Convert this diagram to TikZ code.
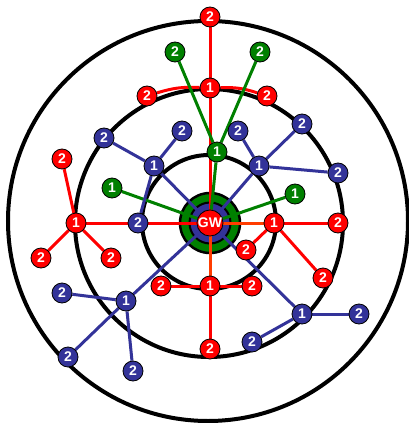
\documentclass[tikz,border=0pt]{standalone}
\usepackage{fontspec}
\setmainfont{Liberation Sans}
\usetikzlibrary{positioning}
\definecolor{hopred}{RGB}{255,0,0}
\definecolor{hoporange}{RGB}{255,60,0}
\definecolor{hopgreen}{RGB}{0,128,0}
\definecolor{hopblue}{RGB}{51,51,153}
\pgfdeclarelayer{rings}
\pgfdeclarelayer{links}
\pgfsetlayers{rings,links,main}
\tikzset{
  hop/.style={circle, draw=black, line width=0.8pt, minimum size=20pt,
    inner sep=0pt, text=white, font=\bfseries\fontsize{14}{14}\selectfont},
  rhop/.style={hop, fill=hopred},
  ghop/.style={hop, fill=hopgreen},
  bhop/.style={hop, fill=hopblue},
  ring/.style={draw=black, line width=4pt},
  rlink/.style={hopred, line width=3pt},
  olink/.style={hoporange, line width=3pt},
  glink/.style={hopgreen, line width=3pt},
  blink/.style={hopblue, line width=3pt}
}

\begin{document}
\begin{tikzpicture}[x=1pt, y=-1pt]
  \useasboundingbox (0,0) rectangle (409,423);

  % Range circles and gateway rings
  \begin{pgfonlayer}{rings}
    \draw[ring] (208,221) circle (200);
    \draw[ring] (209,223) circle (134);
    \draw[ring] (209,222) circle (67);
    \draw[fill=hopgreen, draw=black, line width=2.5pt] (210,223) circle (30);
    \draw[fill=hopblue, draw=black, line width=2pt] (210,223) circle (20.5);
  \end{pgfonlayer}

  % Gateway
  \node[rhop, minimum size=26pt] (gw) at (210,223) {GW};

  % Red branch, top
  \node[rhop] (r1t) at (210,88) {1};
  \node[rhop] (r2t) at (210,17) {2};
  \node[rhop] (r2tl) at (147,96) {2};
  \node[rhop] (r2tr) at (267,96) {2};

  % Red branch, left
  \node[rhop] (r1l) at (76,223) {1};
  \node[rhop] (r2lu) at (62,159) {2};
  \node[rhop] (r2ll) at (41,258) {2};
  \node[rhop] (r2lr) at (111,258) {2};

  % Red branch, right
  \node[rhop] (r1r) at (274,223) {1};
  \node[rhop] (r2r) at (338,223) {2};
  \node[rhop] (r2rl) at (246,250) {2};
  \node[rhop] (r2rd) at (323,278) {2};

  % Red branch, bottom
  \node[rhop] (r1b) at (210,286) {1};
  \node[rhop] (r2bl) at (161,286) {2};
  \node[rhop] (r2br) at (252,286) {2};
  \node[rhop] (r2b) at (210,349) {2};

  % Green branches
  \node[ghop] (g1t) at (217,152) {1};
  \node[ghop] (g2tl) at (175,52) {2};
  \node[ghop] (g2tr) at (260,52) {2};
  \node[ghop] (g1l) at (112,188) {1};
  \node[ghop] (g1r) at (295,194) {1};

  % Blue branch, upper left
  \node[bhop] (b1ul) at (154,166) {1};
  \node[bhop] (b2ula) at (104,138) {2};
  \node[bhop] (b2ulb) at (182,131) {2};
  \node[bhop] (b2ulc) at (138,223) {2};

  % Blue branch, upper right
  \node[bhop] (b1ur) at (259,166) {1};
  \node[bhop] (b2ura) at (238,131) {2};
  \node[bhop] (b2urb) at (302,124) {2};
  \node[bhop] (b2urc) at (338,173) {2};

  % Blue branch, lower left
  \node[bhop] (b1ll) at (126,301) {1};
  \node[bhop] (b2lla) at (62,293) {2};
  \node[bhop] (b2llb) at (68,357) {2};
  \node[bhop] (b2llc) at (133,371) {2};

  % Blue branch, lower right
  \node[bhop] (b1lr) at (302,314) {1};
  \node[bhop] (b2lra) at (359,314) {2};
  \node[bhop] (b2lrb) at (252,342) {2};

  \begin{pgfonlayer}{links}
    % Red links
    \draw[rlink] (gw) -- (r1t) -- (r2t);
    \draw[rlink] (r1t) to[bend right=10] (r2tl);
    \draw[rlink] (r1t) to[bend left=10] (r2tr);
    \draw[rlink] (gw) -- (r1l);
    \draw[rlink] (r1l) -- (r2lu);
    \draw[rlink] (r1l) -- (r2ll);
    \draw[rlink] (r1l) -- (r2lr);
    \draw[olink] (gw) -- (r1r);
    \draw[rlink] (r1r) -- (r2r);
    \draw[rlink] (r1r) -- (r2rl);
    \draw[rlink] (r1r) -- (r2rd);
    \draw[olink] (gw) -- (r1b);
    \draw[rlink] (r1b) -- (r2bl);
    \draw[rlink] (r1b) -- (r2br);
    \draw[rlink] (r1b) -- (r2b);

    % Green links
    \draw[glink] (gw) -- (g1t);
    \draw[glink] (g1t) -- (g2tl);
    \draw[glink] (g1t) -- (g2tr);
    \draw[glink] (gw) -- (g1l);
    \draw[glink] (gw) -- (g1r);

    % Blue links
    \draw[blink] (gw) -- (b1ul);
    \draw[blink] (b1ul) -- (b2ula);
    \draw[blink] (b1ul) -- (b2ulb);
    \draw[blink] (b1ul) -- (b2ulc);
    \draw[blink] (gw) -- (b1ur);
    \draw[blink] (b1ur) -- (b2ura);
    \draw[blink] (b1ur) -- (b2urb);
    \draw[blink] (b1ur) -- (b2urc);
    \draw[blink] (gw) -- (b1ll);
    \draw[blink] (b1ll) -- (b2lla);
    \draw[blink] (b1ll) -- (b2llb);
    \draw[blink] (b1ll) -- (b2llc);
    \draw[blink] (gw) -- (b1lr);
    \draw[blink] (b1lr) -- (b2lra);
    \draw[blink] (b1lr) -- (b2lrb);
  \end{pgfonlayer}
\end{tikzpicture}
\end{document}
